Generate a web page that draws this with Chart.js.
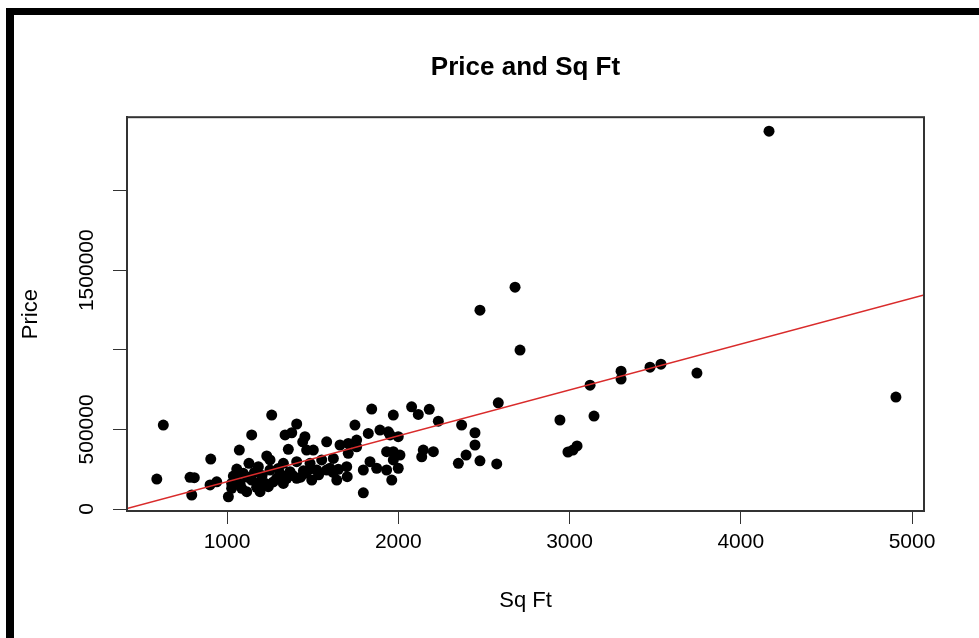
<!DOCTYPE html>
<html>
<head>
<meta charset="utf-8">
<title>Price and Sq Ft</title>
<script src="https://cdn.jsdelivr.net/npm/chart.js@4"></script>
<style>
  html, body { margin: 0; padding: 0; background: #fff; }
  #wrap { position: relative; width: 979px; height: 638px; overflow: hidden; }
  #chart { position: absolute; left: 0; top: 0; }
  .bar { position: absolute; background: #000; }
</style>
</head>
<body>
<div id="wrap">
  <canvas id="chart" width="979" height="638"></canvas>
  <div class="bar" style="left:6px; top:8px; width:8px; height:630px;"></div>
  <div class="bar" style="left:6px; top:8px; width:973px; height:7px;"></div>
</div>
<script>
// house data
const sqft = [
  4165, 2682, 2477, 2711, 4906, 3744, 3534, 3470, 3301, 3301,
  3120, 3143, 2944, 2584, 3044, 3020, 2991, 2575, 2477, 2448,
  2448, 2370, 2396, 2351, 2234, 2181, 2117, 2078, 2205, 2137,
  2146, 2010, 1971, 1932, 1932, 1971, 2000, 1962, 2000, 1952,
  1942, 1893, 1971, 1845, 1747, 1825, 1757, 1708, 1660, 1757,
  1708, 1621, 1601, 1650, 1699, 1702, 1796, 1796, 1835, 1874,
  1641, 1485, 1524, 1582, 1504, 1261, 1407, 1144, 1339, 1378,
  1455, 1442, 1358, 1072, 1465, 905, 1232, 1251, 1128, 1183,
  1057, 1329, 1407, 1485, 1553, 1037, 1095, 1251, 1309, 1368,
  1446, 1582, 901, 940, 1027, 1076, 1144, 1193, 1290, 1349,
  1407, 1495, 1027, 1086, 1173, 1241, 1329, 794, 1008, 1115,
  1193, 628, 590, 784, 809, 1050, 1120, 1205, 1270, 1385,
  1430, 1535, 1160, 1225, 1300, 1460, 1620
];
const price = [
  2373000, 1393000, 1249000, 998000, 703000, 854000, 910000, 891000, 866000, 816000,
  778000, 584000, 559000, 667000, 396000, 370000, 358000, 283000, 303000, 479000,
  402000, 527000, 339000, 287000, 552000, 626000, 594000, 642000, 360000, 328000,
  370000, 339000, 360000, 360000, 245000, 308000, 256000, 182000, 454000, 465000,
  485000, 496000, 590000, 628000, 527000, 475000, 433000, 412000, 402000, 391000,
  350000, 318000, 256000, 249000, 266000, 203000, 245000, 102000, 297000, 256000,
  182000, 251000, 245000, 422000, 370000, 590000, 534000, 465000, 465000, 479000,
  454000, 422000, 375000, 370000, 370000, 314000, 333000, 308000, 287000, 266000,
  251000, 287000, 297000, 287000, 308000, 207000, 224000, 245000, 224000, 234000,
  240000, 245000, 151000, 171000, 161000, 161000, 182000, 171000, 193000, 193000,
  193000, 182000, 130000, 130000, 136000, 140000, 161000, 88000, 77000, 109000,
  109000, 527000, 188000, 199000, 197000, 190000, 200000, 210000, 170000, 210000,
  200000, 215000, 230000, 160000, 255000, 225000, 230000
];

// fitted line (lm) coefficients
const fitIntercept = -116000;
const fitSlope = 288;

const xRange = [416, 5070];
const yRange = [-12500, 2461000];
const xTicks = [1000, 2000, 3000, 4000, 5000];
const yTicks = [0, 500000, 1000000, 1500000, 2000000];
const yTickLabels = ['0', '500000', '', '1500000', ''];

const FONT = '"Liberation Sans", Arial, sans-serif';
const points = sqft.map((s, i) => ({ x: s, y: price[i] }));
const fitLine = xRange.map(x => ({ x: x, y: fitIntercept + fitSlope * x }));

// R style box round the plot + rotated y labels
const rBox = {
  id: 'rBox',
  afterDraw(chart) {
    const { ctx, chartArea: a, scales } = chart;
    ctx.save();
    ctx.strokeStyle = '#333';
    ctx.lineWidth = 2;
    ctx.strokeRect(a.left, a.top, a.right - a.left, a.bottom - a.top);
    ctx.fillStyle = '#000';
    ctx.font = '21px ' + FONT;
    ctx.textAlign = 'center';
    ctx.textBaseline = 'middle';
    yTicks.forEach((v, i) => {
      if (!yTickLabels[i]) return;
      const y = scales.y.getPixelForValue(v);
      ctx.save();
      ctx.translate(87, y);
      ctx.rotate(-Math.PI / 2);
      ctx.fillText(yTickLabels[i], 0, 0);
      ctx.restore();
    });
    ctx.restore();
  }
};

const ctx = document.getElementById('chart').getContext('2d');
const chart = new Chart(ctx, {
  type: 'scatter',
  data: {
    datasets: [
      {
        type: 'line',
        data: fitLine,
        borderColor: '#d92b2b',
        borderWidth: 1.5,
        pointRadius: 0,
        fill: false,
        order: 0
      },
      {
        data: points,
        backgroundColor: '#000',
        borderWidth: 0,
        pointRadius: 5.5,
        order: 1
      }
    ]
  },
  options: {
    responsive: false,
    devicePixelRatio: 1,
    animation: false,
    layout: { padding: { left: 0, right: 55, top: 0, bottom: 0 } },
    plugins: {
      legend: { display: false },
      tooltip: { enabled: false },
      title: {
        display: true,
        fullSize: false,
        text: 'Price and Sq Ft',
        color: '#000',
        font: { family: FONT, size: 26, weight: 'bold' },
        padding: { top: 52, bottom: 34 }
      }
    },
    scales: {
      x: {
        type: 'linear',
        min: xRange[0],
        max: xRange[1],
        afterBuildTicks: s => { s.ticks = xTicks.map(v => ({ value: v })); },
        afterFit: s => { s.height = 127; },
        grid: { drawOnChartArea: false, color: '#333', tickLength: 13 },
        border: { display: true, color: '#333', width: 2 },
        ticks: {
          autoSkip: false,
          maxRotation: 0,
          padding: 6,
          color: '#000',
          font: { family: FONT, size: 21 },
          callback: v => String(v)
        },
        title: {
          display: true,
          text: 'Sq Ft',
          color: '#000',
          font: { family: FONT, size: 22 },
          padding: { top: 0, bottom: 24 }
        }
      },
      y: {
        type: 'linear',
        min: yRange[0],
        max: yRange[1],
        afterBuildTicks: s => { s.ticks = yTicks.map(v => ({ value: v })); },
        afterFit: s => { s.width = 127; },
        grid: { drawOnChartArea: false, color: '#333', tickLength: 14 },
        border: { display: true, color: '#333', width: 2 },
        ticks: { callback: () => '', padding: 0 },
        title: {
          display: true,
          text: 'Price',
          color: '#000',
          font: { family: FONT, size: 22 },
          padding: { top: 18, bottom: 0 }
        }
      }
    }
  },
  plugins: [rBox]
});
</script>
</body>
</html>
